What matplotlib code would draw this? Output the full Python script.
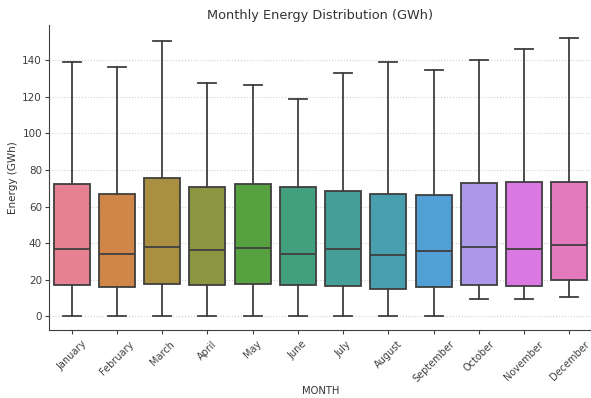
import numpy as np
import matplotlib
matplotlib.use('Agg')
import matplotlib.pyplot as plt
import seaborn as sns

# Box statistics (GWh)
months = ['January', 'February', 'March', 'April', 'May', 'June',
          'July', 'August', 'September', 'October', 'November', 'December']
whisker_low = [0, 0, 0, 0, 0, 0, 0, 0, 0, 9.5, 9.5, 10.2]
q1 = [17.3, 15.7, 17.5, 17.2, 17.5, 17.2, 16.4, 14.8, 16.0, 17.3, 16.6, 19.7]
median = [36.9, 34.1, 37.8, 36.3, 37.4, 33.9, 36.9, 33.4, 35.6, 37.6, 36.7, 38.9]
q3 = [72.1, 66.8, 75.8, 70.5, 72.5, 70.9, 68.3, 67.0, 66.3, 73.0, 73.6, 73.4]
whisker_high = [139.3, 136.2, 150.6, 127.4, 126.7, 118.8, 133.1, 139.3, 134.5, 140.4, 146.2, 152.0]

stats = []
for i, m in enumerate(months):
    stats.append({'label': m, 'whislo': whisker_low[i], 'q1': q1[i], 'med': median[i],
                  'q3': q3[i], 'whishi': whisker_high[i], 'fliers': []})

colors = [sns.desaturate(c, 0.75) for c in sns.color_palette('husl', 12)]
line_col = '#3f3f3f'
text_col = '#333333'

fig = plt.figure(figsize=(5.91, 3.98), dpi=100)
ax = fig.add_axes([49 / 591, 1 - 330 / 398, (592 - 49) / 591, (330 - 24.6) / 398])

bp = ax.bxp(stats, positions=range(12), widths=0.8, patch_artist=True, showfliers=False,
            boxprops=dict(edgecolor=line_col, linewidth=1.3),
            medianprops=dict(color=line_col, linewidth=1.3),
            whiskerprops=dict(color=line_col, linewidth=1.3),
            capprops=dict(color=line_col, linewidth=1.3), capwidths=0.4)
for patch, c in zip(bp['boxes'], colors):
    patch.set_facecolor(c)

ax.set_xlim(-0.5, 11.5)
ax.set_ylim(-7.6, 159.6)
ax.set_yticks(range(0, 141, 20))
ax.set_xticks(range(12))
ax.set_xticklabels(months, rotation=45, fontsize=7, color=text_col)
ax.tick_params(axis='y', labelsize=7.5, labelcolor=text_col, pad=2)
ax.tick_params(colors=line_col, length=3, width=0.8)
ax.grid(axis='y', linestyle=':', color='#d0d0d0', linewidth=0.8)
ax.set_axisbelow(True)
for s in ['top', 'right']:
    ax.spines[s].set_visible(False)
for s in ['left', 'bottom']:
    ax.spines[s].set_color(line_col)

ax.set_title('Monthly Energy Distribution (GWh)', fontsize=9.3, color=text_col, pad=4)
ax.set_xlabel('MONTH', fontsize=7.2, color=text_col, labelpad=1)
ax.set_ylabel('Energy (GWh)', fontsize=7.5, color=text_col, labelpad=3)

fig.savefig('out.png', dpi=100)
